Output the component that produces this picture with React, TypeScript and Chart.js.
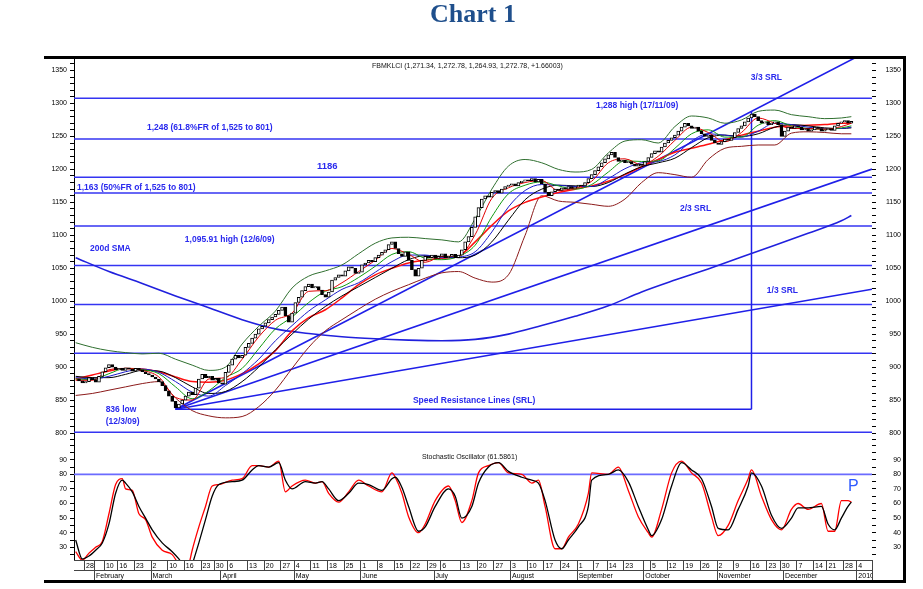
import React, { useEffect, useRef } from 'react';
import { Chart, registerables } from 'chart.js';

Chart.register(...registerables);

// ---------------- data (trading-day index on x) ----------------
const closes = [
  882, 879, 876, 878, 884, 881, 877, 886, 893, 899,
  904, 900, 896, 898, 895, 899, 897, 894, 898, 896,
  893, 890, 888, 885, 882, 878, 872, 864, 856, 848,
  838, 844, 850, 856, 862, 858, 868, 882, 889, 884,
  886, 880, 883, 876, 874, 892, 903, 912, 918, 914,
  918, 930, 936, 944, 950, 958, 962, 967, 972, 976,
  980, 986, 991, 978, 968, 982, 998, 1006, 1016, 1022,
  1026, 1020, 1022, 1017, 1010, 1006, 1014, 1032, 1036, 1040,
  1038, 1046, 1052, 1050, 1042, 1044, 1055, 1058, 1062, 1060,
  1066, 1070, 1074, 1078, 1086, 1090, 1080, 1072, 1068, 1075,
  1062, 1048, 1038, 1050, 1062, 1068, 1066, 1070, 1065, 1068,
  1072, 1066, 1068, 1071, 1066, 1070, 1078, 1090, 1098, 1112,
  1128, 1142, 1155, 1160, 1158, 1165, 1168, 1164, 1170, 1174,
  1176, 1178, 1175, 1180, 1182, 1184, 1183, 1186, 1181, 1185,
  1178, 1165, 1160, 1166, 1170, 1168, 1172, 1170, 1174, 1171,
  1173, 1176, 1175, 1180, 1186, 1192, 1198, 1204, 1210, 1216,
  1222, 1226, 1218, 1212, 1214, 1210, 1212, 1208, 1205, 1208,
  1206, 1212, 1218, 1224, 1228, 1226, 1234, 1240, 1244, 1248,
  1252, 1258, 1264, 1270, 1266, 1262, 1264, 1258, 1254, 1250,
  1252, 1244, 1240, 1238, 1242, 1246, 1244, 1248, 1256, 1262,
  1266, 1272, 1278, 1284, 1280, 1274, 1270, 1272, 1268, 1270,
  1272, 1268, 1250, 1258, 1264, 1262, 1266, 1264, 1260, 1262,
  1258, 1260, 1264, 1262, 1258, 1260, 1262, 1259, 1266, 1270,
  1272, 1274, 1270, 1273,
];

const maDays = [0, 5, 10, 15, 20, 25, 30, 35, 40, 45, 50, 55, 60, 65, 70, 75, 80, 85, 90, 95, 100, 105, 110, 115, 120, 125, 130, 135, 140, 145, 150, 155, 160, 165, 170, 175, 180, 185, 190, 195, 200, 205, 210, 215, 220, 225, 230, 233];
const bbUpper = [937, 930, 925, 922, 920, 921, 912, 903, 895, 900, 935, 962, 985, 1020, 1038, 1046, 1055, 1072, 1088, 1096, 1097, 1095, 1093, 1090, 1125, 1170, 1205, 1215, 1210, 1200, 1196, 1200, 1225, 1243, 1245, 1240, 1265, 1281, 1278, 1270, 1275, 1288, 1290, 1283, 1280, 1277, 1278, 1280];
const bbLower = [857, 860, 865, 870, 875, 878, 853, 834, 826, 823, 825, 840, 865, 898, 930, 955, 972, 988, 1003, 1015, 1025, 1035, 1043, 1045, 1035, 1029, 1040, 1100, 1160, 1152, 1150, 1147, 1144, 1155, 1180, 1195, 1192, 1188, 1215, 1232, 1235, 1237, 1237, 1255, 1257, 1256, 1254, 1254];
const maFastRed = [880, 880, 896, 898, 895, 885, 854, 850, 882, 884, 912, 946, 971, 982, 1015, 1016, 1028, 1045, 1062, 1080, 1071, 1059, 1068, 1069, 1101, 1156, 1172, 1180, 1183, 1168, 1172, 1182, 1210, 1216, 1207, 1220, 1244, 1264, 1256, 1242, 1256, 1278, 1270, 1262, 1262, 1261, 1265, 1270];
const maGreen = [882, 881, 890, 898, 896, 890, 870, 852, 864, 884, 898, 928, 958, 976, 998, 1015, 1022, 1036, 1053, 1071, 1075, 1065, 1063, 1068, 1085, 1128, 1163, 1176, 1181, 1175, 1170, 1177, 1196, 1213, 1212, 1213, 1232, 1254, 1260, 1249, 1249, 1267, 1274, 1266, 1262, 1261, 1263, 1266];
const maBlue = [884, 882, 886, 893, 897, 892, 878, 862, 856, 872, 890, 912, 940, 963, 985, 1002, 1018, 1028, 1044, 1060, 1070, 1070, 1066, 1067, 1075, 1105, 1143, 1168, 1177, 1176, 1174, 1174, 1186, 1201, 1210, 1212, 1222, 1243, 1254, 1252, 1249, 1258, 1270, 1268, 1264, 1262, 1262, 1264];
const maBlack = [886, 884, 884, 889, 895, 894, 884, 870, 860, 863, 878, 900, 926, 950, 973, 992, 1008, 1022, 1036, 1050, 1063, 1069, 1068, 1066, 1070, 1090, 1123, 1154, 1170, 1176, 1175, 1174, 1180, 1193, 1204, 1210, 1217, 1233, 1248, 1252, 1250, 1254, 1264, 1268, 1266, 1263, 1262, 1263];
const maSlowRed = [882, 888, 894, 898, 897, 893, 885, 878, 877, 880, 890, 905, 925, 955, 975, 987, 1005, 1025, 1040, 1050, 1058, 1062, 1065, 1068, 1090, 1115, 1137, 1150, 1158, 1165, 1170, 1175, 1182, 1192, 1204, 1215, 1226, 1232, 1238, 1245, 1252, 1258, 1264, 1266, 1267, 1268, 1270, 1270];

const sma200Days = [0, 10, 20, 30, 40, 50, 60, 70, 80, 90, 100, 110, 120, 130, 140, 150, 160, 170, 180, 190, 200, 210, 220, 230, 233];
const sma200 = [1066, 1045, 1027, 1008, 990, 972, 958, 951, 946, 943, 941, 940, 942, 950, 963, 977, 993, 1014, 1032, 1049, 1067, 1085, 1103, 1122, 1130];

const levelValues = [1308, 1246, 1188, 1164, 1114, 1054, 995, 921, 801];

const srlStartDay = 30;
const srlLow = 836;
const srlEndDay = 203;
const srlHigh = 1288;
const srlParts = [1, 2, 3];

const stochDays = [0, 2, 4, 6, 8, 10, 12, 14, 15, 17, 19, 21, 23, 26, 29, 31, 33, 34, 35, 37, 39, 41, 43, 47, 50, 53, 55, 58, 61, 63, 65, 69, 72, 74, 76, 79, 82, 85, 88, 92, 95, 96, 98, 100, 103, 105, 108, 112, 114, 116, 119, 121, 124, 127, 130, 134, 137, 139, 141, 144, 146, 148, 151, 154, 155, 160, 163, 166, 169, 172, 173, 176, 179, 182, 185, 188, 191, 193, 196, 199, 202, 203, 206, 209, 212, 215, 217, 220, 224, 226, 228, 230, 232, 233];
const stochK = [27, 21, 26, 30, 34, 53, 73, 77, 70, 69, 53, 49, 37, 28, 25, 18, 10, 18, 28, 44, 58, 72, 73, 76, 77, 86, 86, 85, 89, 68, 72, 76, 74, 75, 67, 61, 68, 76, 72, 68, 81, 78, 67, 51, 40, 46, 62, 72, 62, 47, 62, 81, 86, 88, 81, 80, 74, 76, 58, 29, 29, 37, 46, 67, 81, 80, 85, 69, 51, 40, 37, 56, 81, 89, 81, 74, 51, 38, 45, 62, 77, 83, 65, 49, 42, 56, 60, 56, 60, 41, 41, 62, 62, 61];
const stochD = [35, 22, 24, 28, 33, 46, 67, 76, 74, 68, 58, 50, 42, 33, 27, 22, 15, 10, 18, 33, 49, 65, 73, 75, 76, 83, 86, 85, 88, 76, 70, 75, 74, 75, 70, 62, 67, 74, 73, 69, 77, 78, 71, 58, 41, 44, 58, 70, 65, 50, 58, 74, 85, 88, 82, 78, 76, 74, 62, 35, 29, 35, 44, 58, 76, 80, 83, 75, 58, 42, 38, 49, 72, 88, 83, 77, 58, 43, 42, 56, 72, 81, 72, 52, 43, 50, 57, 57, 58, 46, 42, 50, 58, 61];
const stochLevel = 80;

const priceTickValues = [800, 850, 900, 950, 1000, 1050, 1100, 1150, 1200, 1250, 1300, 1350];
const priceTickLabels = ['800', '850', '900', '950', '1000', '1050', '1100', '1150', '1200', '1250', '1300', '1350'];
const stochTickValues = [30, 40, 50, 60, 70, 80, 90];
const stochTickLabels = ['30', '40', '50', '60', '70', '80', '90'];

const weekLabels = ['21', '28', '', '10', '16', '23', '2', '10', '16', '23', '30', '6', '13', '20', '27', '4', '11', '18', '25', '1', '8', '15', '22', '29', '6', '13', '20', '27', '3', '10', '17', '24', '1', '7', '14', '23', '', '5', '12', '19', '26', '2', '9', '16', '23', '30', '7', '14', '21', '28', '4'];
const weekStarts = [-3, 3, 6, 9, 13, 18, 23, 28, 33, 38, 42, 46, 52, 57, 62, 66, 71, 76, 81, 86, 91, 96, 101, 106, 110, 116, 121, 126, 131, 136, 141, 146, 151, 156, 160, 165, 171, 173, 178, 183, 188, 193, 198, 203, 208, 212, 217, 222, 226, 231, 235];
const monthLabels = ['February', 'March', 'April', 'May', 'June', 'July', 'August', 'September', 'October', 'November', 'December', '2010'];
const monthStarts = [6, 23, 44, 66, 86, 108, 131, 151, 171, 193, 213, 235];

const titleText = 'Chart 1';

// text notes anchored to (trading day, value)
const notes = [
  { text: '1,248 (61.8%FR of 1,525 to 801)', day: 21.4, value: 1263, axis: 'yP', kind: 'blue' },
  { text: '1186', day: 72.5, value: 1204, axis: 'yP', kind: 'blueBig' },
  { text: '1,163 (50%FR of 1,525 to 801)', day: 0.4, value: 1173, axis: 'yP', kind: 'blue' },
  { text: '200d SMA', day: 4.3, value: 1079, axis: 'yP', kind: 'blue' },
  { text: '1,095.91 high (12/6/09)', day: 32.8, value: 1094, axis: 'yP', kind: 'blue' },
  { text: '836 low', day: 9, value: 836, axis: 'yP', kind: 'blue' },
  { text: '(12/3/09)', day: 9, value: 817, axis: 'yP', kind: 'blue' },
  { text: 'Speed Resistance Lines (SRL)', day: 101.3, value: 849, axis: 'yP', kind: 'blue' },
  { text: '3/3 SRL', day: 202.8, value: 1339, axis: 'yP', kind: 'blue' },
  { text: '1,288 high (17/11/09)', day: 156.3, value: 1296, axis: 'yP', kind: 'blue' },
  { text: '2/3 SRL', day: 181.5, value: 1140, axis: 'yP', kind: 'blue' },
  { text: '1/3 SRL', day: 207.6, value: 1016, axis: 'yP', kind: 'blue' },
  { text: 'FBMKLCI (1,271.34, 1,272.78, 1,264.93, 1,272.78, +1.66003)', day: 89, value: 1357, axis: 'yP', kind: 'small' },
  { text: 'Stochastic Oscillator (61.5861)', day: 104, value: 91.8, axis: 'yS', kind: 'small' },
  { text: 'P', day: 232, value: 71.3, axis: 'yS', kind: 'bigP' },
];

// ---------------- styling ----------------
const X_MIN = -0.5;
const X_MAX = 239.2;
const SANS = '"Liberation Sans", Arial, sans-serif';
const LEVEL_BLUE = '#3434F2';
const NOTE_BLUE = '#2a2aee';

const noteFonts: Record<string, string> = {
  blue: `bold 8.5px ${SANS}`,
  blueBig: `bold 9.5px ${SANS}`,
  small: `7px ${SANS}`,
  bigP: `16px ${SANS}`,
};
const noteColors: Record<string, string> = {
  blue: NOTE_BLUE,
  blueBig: NOTE_BLUE,
  small: '#111',
  bigP: '#2F5BFF',
};

function lineDs(xs: number[], ys: number[], color: string, width: number, axis: string, order: number, smooth = true) {
  return {
    type: 'line' as const,
    data: xs.map((x, i) => ({ x, y: ys[i] })),
    borderColor: color,
    borderWidth: width,
    pointRadius: 0,
    fill: false,
    xAxisID: 'x',
    yAxisID: axis,
    order,
    tension: 0,
    cubicInterpolationMode: smooth ? ('monotone' as const) : ('default' as const),
  };
}

function buildDatasets() {
  const ds: any[] = [];
  // candles
  const opens = closes.map((c, i) => (i > 0 ? closes[i - 1] : c));
  ds.push({
    type: 'bar',
    data: closes.map((c, i) => ({ x: i, y: [opens[i], c] })),
    backgroundColor: closes.map((c, i) => (c >= opens[i] ? '#ffffff' : '#000000')),
    borderColor: '#000',
    borderWidth: 1,
    borderSkipped: false,
    barThickness: 3,
    grouped: false,
    xAxisID: 'x',
    yAxisID: 'yP',
    order: 0,
  });
  // moving averages and bands
  ds.push(lineDs(maDays, maFastRed, '#e00000', 1, 'yP', 1));
  ds.push(lineDs(maDays, maGreen, '#119911', 1, 'yP', 2));
  ds.push(lineDs(maDays, maBlue, '#1a1ac8', 1, 'yP', 2));
  ds.push(lineDs(maDays, maBlack, '#000000', 1, 'yP', 2));
  ds.push(lineDs(maDays, maSlowRed, '#ff1010', 1.5, 'yP', 2));
  ds.push(lineDs(maDays, bbUpper, '#2f6f2f', 1, 'yP', 3));
  ds.push(lineDs(maDays, bbLower, '#8b1a1a', 1, 'yP', 3));
  ds.push(lineDs(sma200Days, sma200, '#2020dd', 1.6, 'yP', 4));
  // horizontal levels
  levelValues.forEach((v) => ds.push(lineDs([X_MIN, X_MAX], [v, v], LEVEL_BLUE, 1.5, 'yP', 6, false)));
  // speed resistance lines
  const rise = (srlHigh - srlLow) / (srlEndDay - srlStartDay);
  srlParts.forEach((k) => {
    const endY = srlLow + ((X_MAX - srlStartDay) * rise * k) / 3;
    ds.push(lineDs([srlStartDay, X_MAX], [srlLow, endY], '#1f1fe8', 1.6, 'yP', 5, false));
  });
  ds.push(lineDs([srlStartDay, srlEndDay], [srlLow, srlLow], '#1f1fe8', 1.5, 'yP', 5, false));
  ds.push(lineDs([srlEndDay, srlEndDay], [srlLow, srlHigh], '#1f1fe8', 1.5, 'yP', 5, false));
  // stochastic
  ds.push(lineDs([X_MIN, X_MAX], [stochLevel, stochLevel], '#6b6bff', 1.6, 'yS', 6, false));
  ds.push(lineDs(stochDays, stochK, '#ff0000', 1.3, 'yS', 2));
  ds.push(lineDs(stochDays, stochD, '#000000', 1.3, 'yS', 1));
  return ds;
}

function yAxis(position: 'left' | 'right', stack: string, weight: number, stackWeight: number, min: number, max: number, minor: number[], vals: number[], labels: string[], width: number, padding: number) {
  return {
    type: 'linear' as const,
    position,
    stack,
    stackWeight,
    weight,
    min,
    max,
    afterBuildTicks: (scale: any) => {
      scale.ticks = minor.map((v) => ({ value: v }));
    },
    afterFit: (scale: any) => {
      scale.width = width;
    },
    ticks: {
      autoSkip: false,
      padding,
      color: '#000',
      font: { size: 7, family: SANS },
      crossAlign: position === 'right' ? ('far' as const) : ('near' as const),
      callback: (value: any) => {
        const i = vals.indexOf(Number(value));
        return i >= 0 ? labels[i] : '';
      },
    },
    grid: { display: true, drawOnChartArea: false, drawTicks: true, tickLength: 4, tickColor: '#000', tickWidth: 1 },
    border: { display: position === 'left', color: '#000', width: 1 },
  };
}

const range = (a: number, b: number, s: number) => {
  const out: number[] = [];
  for (let v = a; v <= b; v += s) out.push(v);
  return out;
};

const overlayPlugin = {
  id: 'overlay',
  afterDraw(chart: any) {
    const { ctx, chartArea } = chart;
    const xs = chart.scales.x;
    ctx.save();
    // title
    ctx.font = `bold 26px "Liberation Serif", "Times New Roman", serif`;
    ctx.fillStyle = '#1f4f8c';
    ctx.textAlign = 'center';
    ctx.textBaseline = 'alphabetic';
    ctx.fillText(titleText, 473, 22);

    // date axis
    const L = chartArea.left;
    const R = chartArea.right;
    const T = chartArea.bottom;
    const M = T + 10.5;
    const B = T + 21;
    ctx.strokeStyle = '#444';
    ctx.lineWidth = 1;
    ctx.beginPath();
    ctx.moveTo(L, T + 0.5);
    ctx.lineTo(R, T + 0.5);
    ctx.moveTo(L, M);
    ctx.lineTo(R, M);
    ctx.moveTo(R + 0.5, T);
    ctx.lineTo(R + 0.5, B);
    ctx.stroke();
    ctx.save();
    ctx.beginPath();
    ctx.rect(L, T, R - L, B - T);
    ctx.clip();
    ctx.font = `7px ${SANS}`;
    ctx.fillStyle = '#000';
    ctx.textAlign = 'left';
    ctx.textBaseline = 'middle';
    ctx.beginPath();
    weekStarts.forEach((d) => {
      const px = Math.round(xs.getPixelForValue(d - 0.5)) + 0.5;
      ctx.moveTo(px, T);
      ctx.lineTo(px, M);
    });
    monthStarts.forEach((d) => {
      const px = Math.round(xs.getPixelForValue(d - 0.5)) + 0.5;
      ctx.moveTo(px, M);
      ctx.lineTo(px, B);
    });
    ctx.stroke();
    weekLabels.forEach((t, i) => {
      const px = xs.getPixelForValue(weekStarts[i] - 0.5);
      ctx.fillText(t, px + 2, T + 6);
    });
    monthLabels.forEach((t, i) => {
      const px = xs.getPixelForValue(monthStarts[i] - 0.5);
      ctx.fillText(t, px + 2, M + 5.5);
    });
    ctx.restore();

    // notes
    ctx.textAlign = 'left';
    ctx.textBaseline = 'middle';
    notes.forEach((n) => {
      const sc = chart.scales[n.axis];
      ctx.font = noteFonts[n.kind];
      ctx.fillStyle = noteColors[n.kind];
      ctx.fillText(n.text, xs.getPixelForValue(n.day), sc.getPixelForValue(n.value));
    });

    // frame
    ctx.fillStyle = '#000';
    ctx.fillRect(44, 56, 862, 3);
    ctx.fillRect(903, 56, 3, 527);
    ctx.fillRect(44, 580, 862, 3);
    ctx.restore();
  },
};

export default function App() {
  const ref = useRef<HTMLCanvasElement>(null);
  useEffect(() => {
    if (!ref.current) return;
    const minorP = range(790, 1360, 10);
    const minorS = range(25, 100, 5);
    const chart = new Chart(ref.current, {
      type: 'line',
      data: { datasets: buildDatasets() },
      options: {
        animation: false,
        responsive: false,
        devicePixelRatio: 1,
        layout: { padding: { top: 58, bottom: 29, left: 0, right: 22 } },
        plugins: { legend: { display: false }, tooltip: { enabled: false }, title: { display: false } },
        scales: {
          x: { type: 'linear', min: X_MIN, max: X_MAX, display: false, offset: false, grid: { offset: false } },
          yP: yAxis('left', 'L', 2, 387, 781.8, 1369, minorP, priceTickValues, priceTickLabels, 74, 3),
          yS: yAxis('left', 'L', 1, 115, 21.3, 100.1, minorS, stochTickValues, stochTickLabels, 74, 3),
          yP2: yAxis('right', 'R', 1, 387, 781.8, 1369, minorP, priceTickValues, priceTickLabels, 29, 9),
          yS2: yAxis('right', 'R', 2, 115, 21.3, 100.1, minorS, stochTickValues, stochTickLabels, 29, 16),
        } as any,
      },
      plugins: [overlayPlugin],
    } as any);
    return () => chart.destroy();
  }, []);
  return (
    <div style={{ position: 'absolute', left: 0, top: 0, width: 923, height: 589, background: '#fff' }}>
      <canvas ref={ref} width={923} height={589} style={{ display: 'block', width: 923, height: 589 }} />
    </div>
  );
}
